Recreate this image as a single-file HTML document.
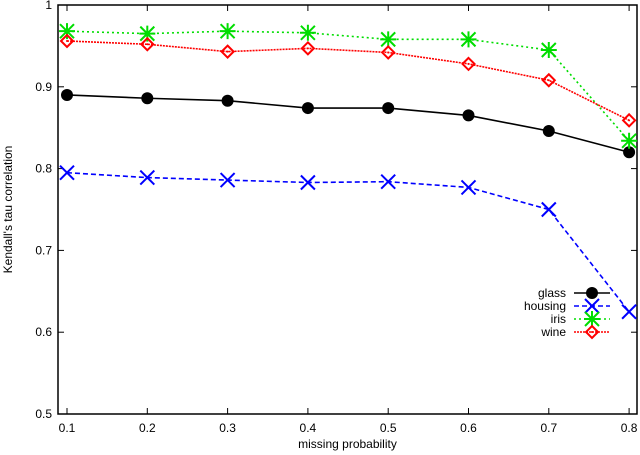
<!DOCTYPE html>
<html><head><meta charset="utf-8"><style>
body{margin:0;background:#fff}
svg{display:block;font-family:"Liberation Sans",sans-serif}
</style></head><body>
<svg id="chart" width="640" height="455"></svg>
<script>
const categories=[0.1,0.2,0.3,0.4,0.5,0.6,0.7,0.8];
const glass=[0.890,0.886,0.883,0.874,0.874,0.865,0.846,0.820];
const housing=[0.795,0.789,0.786,0.783,0.784,0.777,0.750,0.625];
const iris=[0.968,0.965,0.968,0.966,0.958,0.958,0.945,0.834];
const wine=[0.956,0.952,0.943,0.947,0.942,0.928,0.908,0.859];
const yTicks=["0.5","0.6","0.7","0.8","0.9","1"];
const xTicks=["0.1","0.2","0.3","0.4","0.5","0.6","0.7","0.8"];
const seriesNames=["glass","housing","iris","wine"];

const NS="http://www.w3.org/2000/svg";
const svg=document.getElementById('chart');
const L=58,R=637,T=5,B=414;
const xS=v=>67+(v-0.1)*803;
const yS=v=>B-(v-0.5)*(B-T)/0.5;
function mk(tag,attrs,parent){const e=document.createElementNS(NS,tag);for(const k in attrs)e.setAttribute(k,attrs[k]);(parent||svg).appendChild(e);return e;}

const frame=mk('rect',{x:L,y:T,width:R-L,height:B-T,fill:'none',stroke:'#000','stroke-width':1.5});


yTicks.forEach(t=>{const y=yS(parseFloat(t));
 mk('line',{x1:L,x2:L+6,y1:y,y2:y,stroke:'#000'});mk('line',{x1:R,x2:R-6,y1:y,y2:y,stroke:'#000'});
 const tx=mk('text',{x:L-6,y:y+4,'text-anchor':'end','font-size':12});tx.textContent=t;
 
 });
xTicks.forEach(t=>{const x=xS(parseFloat(t));
 mk('line',{x1:x,x2:x,y1:B,y2:B-6,stroke:'#000'});mk('line',{x1:x,x2:x,y1:T,y2:T+6,stroke:'#000'});
 const tx=mk('text',{x:x,y:B+18,'text-anchor':'middle','font-size':12});tx.textContent=t;
 
 });
const xt=mk('text',{x:(L+R)/2,y:448,'text-anchor':'middle','font-size':12});xt.textContent='missing probability';


const yt=mk('text',{x:0,y:0,'text-anchor':'middle','font-size':12,transform:`translate(12,${(T+B)/2}) rotate(-90)`});yt.textContent="Kendall's tau correlation";



const styles=[{c:'#000',d:'',m:'circle'},{c:'#0000ff',d:'5,3',m:'x'},{c:'#00dd00',d:'2,3',m:'star'},{c:'#ff0000',d:'2,1',m:'diamond'}];
function marker(g,type,x,y,c){
 if(type==='circle')mk('circle',{cx:x,cy:y,r:6,fill:c},g);
 else if(type==='x'){mk('path',{d:`M${x-7},${y-7}L${x+7},${y+7}M${x-7},${y+7}L${x+7},${y-7}`,stroke:c,'stroke-width':2},g);}
 else if(type==='star'){mk('path',{d:`M${x-7},${y-7}L${x+7},${y+7}M${x-7},${y+7}L${x+7},${y-7}M${x},${y-8}L${x},${y+8}M${x-8},${y}L${x+8},${y}`,stroke:c,'stroke-width':2},g);}
 else {mk('path',{d:`M${x},${y-6}L${x+6},${y}L${x},${y+6}L${x-6},${y}Z`,stroke:c,fill:'none','stroke-width':2},g);mk('circle',{cx:x,cy:y,r:1,fill:c},g);}
}
[glass,housing,iris,wine].forEach((vals,i)=>{
 const s=styles[i];const g=mk('g',{});
 
 
 mk('polyline',{points:vals.map((v,j)=>xS(categories[j])+','+yS(v)).join(' '),fill:'none',stroke:s.c,'stroke-width':1.6,'stroke-dasharray':s.d},g);
 vals.forEach((v,j)=>marker(g,s.m,xS(categories[j]),yS(v),s.c));
 const ly=293+i*13;const lg=mk('g',{});
 
 
 const lt=mk('text',{x:566,y:ly+4,'text-anchor':'end','font-size':12},lg);lt.textContent=seriesNames[i];
 mk('line',{x1:574,x2:610,y1:ly,y2:ly,stroke:s.c,'stroke-width':1.6,'stroke-dasharray':s.d},lg);
 marker(lg,s.m,592,ly,s.c);
});
</script>
</body></html>
